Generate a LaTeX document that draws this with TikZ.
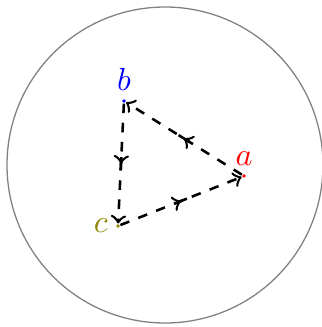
\documentclass[tikz,border=0pt]{standalone}
\usepackage{amsmath}
\usetikzlibrary{decorations.markings}
\tikzset{
	flow/.style={dashed,thick,->,postaction={decorate},
		decoration={markings,mark=at position 0.5 with {
			\draw[solid,-] (-2pt,0) -- (2pt,0);
			\arrow{>}}}},
	pt/.style={circle,inner sep=0pt,minimum size=1.2pt,fill=#1},
}

\begin{document}
\begin{tikzpicture}[x=0.3125pt,y=-0.3125pt]
	\useasboundingbox (0,0) rectangle (322,327);
	\draw[gray] (165,165) circle (158);
	\node[pt=red] (a) at (244,176) {};
	\node[pt=blue] (b) at (124,101) {};
	\node[pt=olive] (c) at (118,226) {};
	\node[red,above,inner sep=3pt] at (a) {\(a\)};
	\node[blue,above,inner sep=3pt] at (b) {\(b\)};
	\node[olive,left,inner sep=3pt] at (c) {\(c\)};
	\draw[flow] (a) -- (b);
	\draw[flow] (b) -- (c);
	\draw[flow] (c) -- (a);
\end{tikzpicture}
\end{document}
